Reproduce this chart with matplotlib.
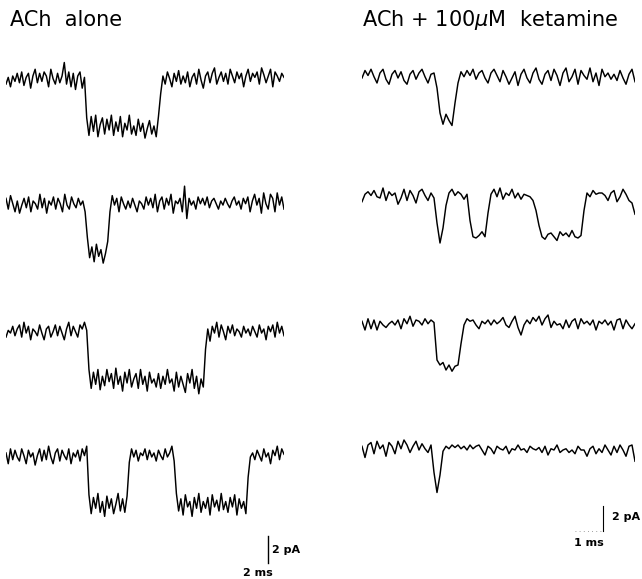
import numpy as np
import matplotlib
matplotlib.use('Agg')
import matplotlib.pyplot as plt

# Single-channel current traces, values in tenths of pA (0 = closed level)
# ACh alone: 20 ms sweeps
left_duration = 20.0
ach_1 = [-3, 2, -5, 3, -1, 5, -2, 6, -4, 2, 5, -6, 3, 8, -2, 5, -1, 6, 3, -5, 8, 1, -3, 5, -2, 3, 13, -3, 6, -5, 5, -7, 3, 6, -6, 2,
         -28, -41, -27, -38, -26, -42, -33, -28, -40, -29, -37, -26, -41, -31, -38, -27, -42, -32, -37, -26, -40, -34, -41, -29,
         -38, -32, -43, -36, -30, -40, -34, -42, -27,
         -10, 3, -3, 6, 1, -5, 5, -1, 7, -3, 3, -2, 6, -5, 2, 5, -3, 8, 0, -6, 3, 6, -2, 5, 9, -3, 2, 6, -1, 5, -3, 8, 3, -2, 6,
         1, 5, -5, 3, 8, -1, 5, 2, 6, -3, 9, 4, -2, 3, 8, -5, 6, 3, -1, 5, 2]
ach_2 = [5, -3, 7, 1, -5, 3, -6, 0, 5, -2, 6, -5, 3, 1, -3, 8, -2, 5, -6, 3, 0, 6, -3, 5, 1, -5, 8, 0, -3, 6, 1, -2, 5, 0, 3, -5,
         -24, -39, -31, -42, -29, -38, -33, -43, -36, -27,
         -5, 7, 0, 5, -5, 6, 1, -3, 3, -2, 5, 0, -5, 3, 1, -3, 6, 0, 5, -2, 8, -5, 3, 6, -3, 5, 0, 8, -6, 3, 1, 5, -5, 14, -10, 5,
         0, 3, -3, 6, 1, 5, 0, 6, -2, 3, 5, 1, -3, 3, 0, 5, 1, -2, 3, 6, 0, 3, -3, 5, 1, 6, -5, 3, 8, 0, 5, -6, 9, 1, -3, 8, 5,
         -5, 9, 0, 6, -3]
ach_3 = [-3, 2, 0, 5, -2, 3, 6, -3, 8, 0, 5, -5, 3, 1, -2, 6, 0, -5, 3, 5, -3, 1, 6, -2, 5, 0, -5, 3, 8, -2, 5, 1, -3, 6, 3, 8, 2,
         -27, -41, -29, -38, -27, -42, -32, -39, -27, -36, -30, -41, -26, -38, -32, -43, -29, -37, -27, -40, -34, -30, -41, -27,
         -38, -32, -43, -29, -37, -34, -40, -30, -41, -32, -38, -27, -37, -34, -43, -29, -40, -32, -38, -44, -30, -37, -27, -41,
         -32, -45, -34, -40,
         -12, 3, -6, 5, 0, 8, -3, 6, 1, -5, 5, 0, 6, -2, 3, 1, -3, 5, 0, 3, -2, 5, 1, -3, 6, 0, 3, -5, 5, 1, 6, -3, 8, 0, 5, -2]
ach_4 = [3, -5, 6, -2, 5, 0, -3, 6, 1, -5, 5, 0, 3, -6, 1, 6, -3, 5, -2, 8, 0, -5, 3, 6, -3, 5, 1, -2, 6, -5, 3, 0, 5, -3, 6, 1, 8,
         -28, -42, -30, -38, -27, -41, -33, -44, -29, -38, -31, -42, -35, -27, -40, -31, -41, -29,
         -4, 6, 0, 5, -3, 3, 1, 6, -2, 5, 0, 3, -3, 5, 1, -2, 6, 0, 3, 8, -3,
         -27, -40, -31, -43, -28, -37, -33, -44, -30, -38, -27, -41, -33, -38, -30, -43, -28, -37, -32, -40, -27, -39, -33, -41,
         -30, -37, -28, -43, -31, -38, -33, -42,
         -15, 0, 3, -2, 5, 1, -3, 6, 0, 3, -5, 5, 1, 8, -2, 6, 2]

# ACh + 100 uM ketamine: 9.75 ms sweeps
right_duration = 9.75
ket_1 = [0, 6, 2, 7, 1, -4, 4, 7, -1, -5, 3, 6, 0, 5, -2, -5, 3, 6, -1, 4, 7, 1, -4, 3, 4,
         -8, -28, -37, -29, -34, -38, -20,
         -4, 5, 1, 6, 2, 7, -1, 4, 6, 0, -4, 4, 7, 2, -3, 6, 1, -5, 0, 5, -6, 3, 7, 0, -4, 4, 8, -1, -5, 3, 6, -2, 7, 2, -6, 4,
         8, -3, 1, 7, -5, 6, 2, -1, 8, -3, 4, -6, 7, 1, 4, -1, 3, -2, 6, 0, -5, 3, 7, -3]
ket_2 = [-3, 3, 5, 2, 6, 1, 0, 8, -2, 5, 2, 4, -5, 0, 7, -2, 6, 2, -4, 5, 7, 2, -2, 4, 0,
         -20, -36, -24, -6, 4,
         7, 2, 5, 3, -1, 3,
         -18, -31, -32, -30, -27, -31, -12,
         3, 7, 1, 8, -1, 4, 2, 7, 0, 4, -1, 3, 2, 1, -2,
         -10, -22, -31, -33, -29, -28, -31, -34, -27, -30, -28, -31, -26, -31, -32, -30,
         -10, 4, 1, 6, 3, 4, 4, 2, -2, 4, 6, -3, 1, 7, 3, -2, -4, -13]
ket_3 = [3, -4, 5, -3, 4, -4, 3, 0, -2, 1, 3, 0, 4, -3, 5, 1, 7, -1, 4, 3, 0, 5, 1, 4, 2,
         -28, -32, -30, -36, -32, -37, -33, -32, -15,
         0, 5, 3, 4, 0, -3, 3, 1, 4, 0, 4, 1, 3, 6, 0, -2, 3, 7, -2, -8, 0, 4, 1, 6, 3, 7, 0, 5, 8, -2, 3, 0, 1, -3, 4, -2,
         3, 5, -3, 5, 1, 3, 0, 4, -4, 3, 1, 4, 0, 3, -4, 4, 5, -3, 4, 0, -3, 1]
ket_4 = [3, -6, 4, 6, -3, 7, 1, 4, -5, 6, 3, -3, 7, 1, 8, 4, -2, 3, 7, 0, 5, 1, -2, 4,
         -18, -34, -20, -1,
         3, 1, 4, 2, 4, 1, 3, 0, 4, 1, 3, 4, 0, -4, 3, 1, -3, 3, 1, 0, 3, -3, 1, 0, 4, 0, 1, -2, 3, 1, 0, 2, -2, 3, -4, 1,
         0, 4, -2, 0, 1, -2, 0, -3, 3, 0, 0, -5, 1, 3, -3, 1, -2, 4, 0, -4, 3, -2, 4, 0, -5, 3, 4, -9]

left_traces = [ach_1, ach_2, ach_3, ach_4]
right_traces = [ket_1, ket_2, ket_3, ket_4]

# vertical position of each sweep's closed level (pA below the top edge)
left_offsets = [-5.93, -15.19, -24.67, -33.85]
right_offsets = [-6.24, -15.84, -26.0, -36.0]

W, H = 642, 579
fig = plt.figure(figsize=(W / 100, H / 100), dpi=100)
fig.patch.set_facecolor('white')

lw = 1.05

# left column, 13.5 px per pA
axl = fig.add_axes([6 / W, 0, 278 / W, 1])
axl.set_xlim(0, left_duration)
axl.set_ylim(-H / 13.5, 0)
axl.axis('off')
for vals, off in zip(left_traces, left_offsets):
    t = np.linspace(0, left_duration, len(vals))
    axl.plot(t, off + np.array(vals) / 10.0, color='black', lw=lw)

# scale bar, 2 pA
axl.plot([18.85, 18.85], [-41.7, -39.7], color='black', lw=1.0)
axl.text(19.15, -40.75, '2 pA', fontsize=8, fontweight='bold', va='center', ha='left')
axl.text(18.1, -42.45, '2 ms', fontsize=8, fontweight='bold', va='center', ha='center')

# right column, 12.5 px per pA
axr = fig.add_axes([362 / W, 0, 273 / W, 1])
axr.set_xlim(0, right_duration)
axr.set_ylim(-H / 12.5, 0)
axr.axis('off')
for vals, off in zip(right_traces, right_offsets):
    t = np.linspace(0, right_duration, len(vals))
    axr.plot(t, off + np.array(vals) / 10.0, color='black', lw=lw)

axr.plot([8.61, 8.61], [-42.48, -40.48], color='black', lw=0.8)
axr.plot([7.61, 8.61], [-42.48, -42.48], color='0.5', lw=0.6, ls=(0, (1, 4)))
axr.text(8.93, -41.4, '2 pA', fontsize=8, fontweight='bold', va='center', ha='left')
axr.text(8.11, -43.4, '1 ms', fontsize=8, fontweight='bold', va='center', ha='center')

fig.text(10 / W, 1 - 20 / H, 'ACh  alone', fontsize=15, va='center', ha='left')
fig.text(362 / W, 1 - 20 / H, 'ACh + 100$\\mu$M  ketamine', fontsize=15, va='center', ha='left')

fig.savefig('out.png', dpi=100, facecolor='white')
